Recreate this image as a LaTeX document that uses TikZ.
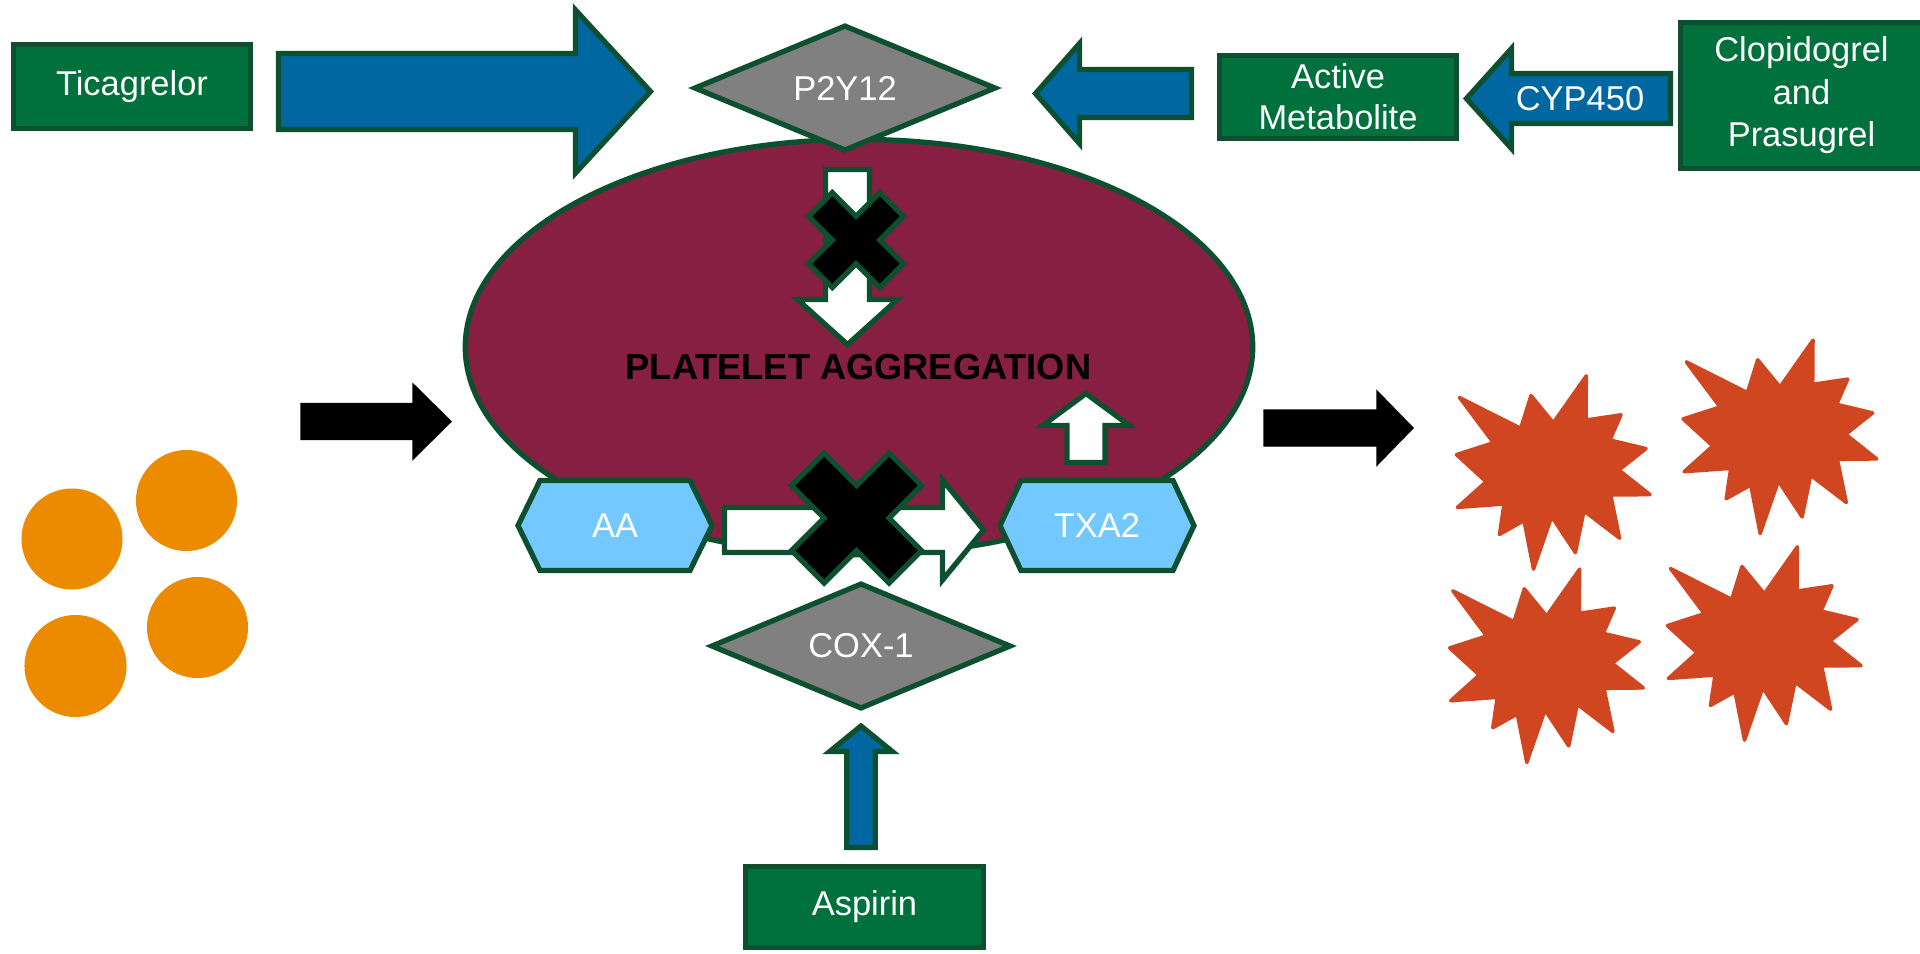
\documentclass[tikz,border=0pt]{standalone}
\usepackage{fontspec}
\setmainfont{Liberation Sans}
\usetikzlibrary{shapes.geometric,calc}

\definecolor{edgegreen}{RGB}{12,80,48}
\definecolor{boxgreen}{RGB}{0,112,60}
\definecolor{arrblue}{RGB}{0,103,160}
\definecolor{platmaroon}{RGB}{134,31,65}
\definecolor{hexblue}{RGB}{115,201,255}
\definecolor{dgrey}{RGB}{128,128,128}
\definecolor{dotorange}{RGB}{236,139,0}
\definecolor{burstred}{RGB}{207,70,32}

% block arrow: style, tail, tip, shaft half-width, head half-width, head length (px units)
\newcommand{\blockarrow}[6]{%
  \path ($(#3)!#6*0.01cm!(#2)$) coordinate (babase);
  \draw[#1] ($(#2)!#4*0.01cm!90:(#3)$) -- ($(babase)!#4*0.01cm!90:(#3)$)
    -- ($(babase)!#5*0.01cm!90:(#3)$) -- (#3)
    -- ($(babase)!#5*0.01cm!-90:(#3)$) -- ($(babase)!#4*0.01cm!-90:(#3)$)
    -- ($(#2)!#4*0.01cm!-90:(#3)$) -- cycle;
}
% flat hexagon: centre, half width, half height, inset of the side points
\newcommand{\hexagonpath}[4]{%
  \draw[hexshape] ($(#1)+(-#2,0)$) -- ($(#1)+(-#2+#4,-#3)$) -- ($(#1)+(#2-#4,-#3)$)
    -- ($(#1)+(#2,0)$) -- ($(#1)+(#2-#4,#3)$) -- ($(#1)+(-#2+#4,#3)$) -- cycle;
}
% blocking cross: centre, half size
\newcommand{\blockcross}[2]{%
  \begin{scope}[shift={(#1)},scale=#2]
    \draw[crossmark] (0,-0.5) -- (0.5,-1) -- (1,-0.5) -- (0.5,0) -- (1,0.5) -- (0.5,1)
      -- (0,0.5) -- (-0.5,1) -- (-1,0.5) -- (-0.5,0) -- (-1,-0.5) -- (-0.5,-1) -- cycle;
  \end{scope}
}

\begin{document}
\begin{tikzpicture}[x=0.01cm,y=-0.01cm,
  outl/.style={draw=edgegreen,line width=1.5pt,line join=miter},
  lbl/.style={text=white,font=\fontsize{9.8pt}{11.6pt}\selectfont,align=center,inner sep=0pt},
  drugbox/.style={rectangle,outl,fill=boxgreen,lbl},
  receptor/.style={diamond,aspect=2.3,outl,fill=dgrey,lbl},
  hexshape/.style={outl,fill=hexblue},
  bluearrow/.style={outl,fill=arrblue},
  whitearrow/.style={outl,fill=white},
  blackarrow/.style={fill=black},
  crossmark/.style={outl,fill=black},
  burst/.style={fill=burstred,draw=burstred,line width=1pt,line join=round}
]
\fill[white] (0,0) rectangle (1920,953);
\useasboundingbox (0,0) rectangle (1920,953);

% platelet body
\node[ellipse,outl,fill=platmaroon,minimum width=7.87cm,minimum height=4.15cm,inner sep=0pt] (plt) at (859,347) {};

% P2Y12 pathway inside the platelet (blocked)
\coordinate (p2T) at (847.5,169.5);
\coordinate (p2H) at (847.5,344.5);
\blockarrow{whitearrow}{p2T}{p2H}{22}{50}{45}
\blockcross{856,240}{47.5}

% TXA2 signal up into the platelet
\coordinate (txT) at (1086,462.5);
\coordinate (txH) at (1086,393.5);
\blockarrow{whitearrow}{txT}{txH}{19}{43.5}{32}

% AA -> TXA2 conversion (blocked)
\coordinate (aaT) at (724.5,530);
\coordinate (aaH) at (983.5,530);
\blockarrow{whitearrow}{aaT}{aaH}{22.5}{50}{41}

\coordinate (aac) at (615,525.5);
\hexagonpath{aac}{97}{45}{22}
\node[lbl] (aa) at (aac) {AA};
\coordinate (txc) at (1097,525.5);
\hexagonpath{txc}{97}{45}{21}
\node[lbl] (txa) at (txc) {TXA2};

\node[receptor,minimum width=3.0cm,minimum height=1.26cm] (cox) at (861,646) {COX-1};
\blockcross{856.5,518}{65}

\node[receptor,minimum width=3.02cm,minimum height=1.26cm] (p2y12) at (845,88) {P2Y12};

\node[inner sep=0pt,font=\bfseries\fontsize{10.3pt}{12pt}\selectfont] (pltlabel) at (858.5,367.5) {PLATELET AGGREGATION};

% drugs
\node[drugbox,minimum width=2.37cm,minimum height=0.84cm] (tica) at (132,86.5) {Ticagrelor};
\node[drugbox,minimum width=2.37cm,minimum height=0.83cm] (actmet) at (1338,97) {Active\\Metabolite};
\node[drugbox,minimum width=2.42cm,minimum height=1.46cm,font=\fontsize{9.8pt}{12.1pt}\selectfont] (clop) at (1801.5,95.5) {Clopidogrel\\and\\Prasugrel};
\node[drugbox,minimum width=2.38cm,minimum height=0.81cm] (asp) at (864.5,907) {Aspirin};

\coordinate (ticaT) at (278.5,91.5);
\coordinate (ticaH) at (650.5,91.5);
\blockarrow{bluearrow}{ticaT}{ticaH}{38}{81.5}{75}

\coordinate (metT) at (1191.5,93.5);
\coordinate (metH) at (1035.5,93.5);
\blockarrow{bluearrow}{metT}{metH}{24}{50}{44}

\coordinate (cypT) at (1670.5,98.5);
\coordinate (cypH) at (1466.5,98.5);
\blockarrow{bluearrow}{cypT}{cypH}{25}{50}{45}
\node[lbl] (cyp) at (1580,98.5) {CYP450};

\coordinate (aspT) at (861,847.5);
\coordinate (aspH) at (861,726);
\blockarrow{bluearrow}{aspT}{aspH}{14.2}{31.3}{25.5}

% resting platelets in, aggregated platelets out
\coordinate (inT) at (301,421.5);
\coordinate (inH) at (451,421.5);
\blockarrow{blackarrow}{inT}{inH}{18}{37.5}{38}
\coordinate (outT) at (1264,428);
\coordinate (outH) at (1413,428);
\blockarrow{blackarrow}{outT}{outH}{18}{37}{36}

\fill[dotorange] (72,539) circle [radius=0.505cm];
\fill[dotorange] (186.5,500.5) circle [radius=0.505cm];
\fill[dotorange] (75.5,666) circle [radius=0.51cm];
\fill[dotorange] (197.5,627.5) circle [radius=0.505cm];

\foreach \sx/\sy in {0/0, 226.7/-35.7, -6.7/193.3, 211/171}{
  \draw[burst,shift={(\sx,\sy)}] (1459.5,397.5) -- (1520.7,428.3) -- (1531,395.5) -- (1553.3,422.7)
    -- (1586.3,375.8) -- (1586,420) -- (1621,414.8) -- (1610,440) -- (1646,448.6) -- (1619,470)
    -- (1650,494.6) -- (1610.7,495) -- (1619.6,538.2) -- (1584,511) -- (1575.4,552.6) -- (1551.7,516.7)
    -- (1533.5,569.2) -- (1524,520.7) -- (1499.5,534.4) -- (1504,504) -- (1457.4,507.4) -- (1486,481.7)
    -- (1456.4,454.6) -- (1493.3,442.7) -- cycle;
}
\end{tikzpicture}
\end{document}
